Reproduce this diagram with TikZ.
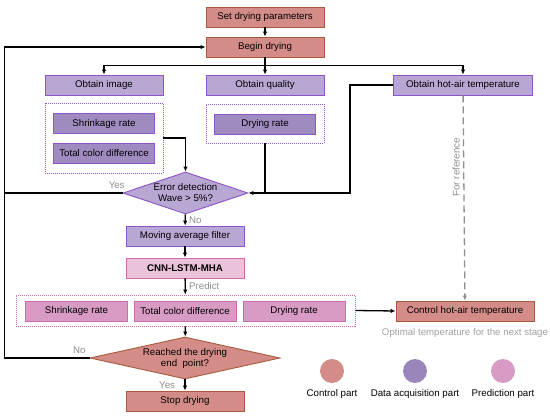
\documentclass[tikz,border=0pt]{standalone}
\usepackage{fontspec}
\setmainfont{Liberation Sans}
\usetikzlibrary{arrows.meta,positioning,shapes.geometric}
\definecolor{DryCtrl}{HTML}{D48C89}
\definecolor{DryCtrlLine}{HTML}{A85A3C}
\definecolor{DryAcq}{HTML}{B8A7D2}
\definecolor{DryAcqDark}{HTML}{9F8BC0}
\definecolor{DryAcqLine}{HTML}{8E55C8}
\definecolor{DryPred}{HTML}{D89BC3}
\definecolor{DryPredLight}{HTML}{EAC3DB}
\definecolor{DryPredLine}{HTML}{D06AAE}
\definecolor{DryDot}{HTML}{9B86BB}
\definecolor{DryGrey}{HTML}{8E8E8E}
\newcommand\dryfont{\fontsize{9.7}{11}\selectfont}
\tikzset{block/.style={draw,line width=0.9pt,align=center,minimum height=20pt,
minimum width=118pt,inner sep=1pt,font=\dryfont},
ctrl/.style={block,fill=DryCtrl,draw=DryCtrlLine},
acq/.style={block,fill=DryAcq,draw=DryAcqLine},
acqsub/.style={acq,fill=DryAcqDark,minimum width=101pt},
pred/.style={block,fill=DryPred,draw=DryPredLine,minimum width=102pt},
group/.style={draw,line width=0.9pt,dash pattern=on 1pt off 1pt,inner sep=0pt},
decide/.style={diamond,draw,line width=0.9pt,align=center,inner sep=0pt,font=\dryfont},
legdot/.style={circle,minimum size=24pt,inner sep=0pt},
flow/.style={-{Latex[length=5pt,width=4.5pt]},line width=1.3pt},
link/.style={line width=1.3pt},
note/.style={text=DryGrey,font=\dryfont}}

\begin{document}
\begin{tikzpicture}[x=1pt,y=-1pt]
\useasboundingbox (0,0) rectangle (550,418);
% control steps
\node[ctrl](setpar) at (265,17){Set drying parameters};
\node[ctrl](begin) at (265,47){Begin drying};
% data acquisition
\node[acq](image) at (104,85){Obtain image};
\node[acq](quality) at (265,85){Obtain quality};
\node[acq,minimum width=139pt](airtemp) at (463,85){Obtain hot-air temperature};
\node[group,draw=DryAcqLine,minimum width=118pt,minimum height=70pt](gimage) at (104,138){};
\node[acqsub](shrink) at (104,123.5){Shrinkage rate};
\node[acqsub](color) at (104,153){Total color difference};
\node[group,draw=DryAcqLine,minimum width=118pt,minimum height=39pt](gquality) at (265,123.5){};
\node[acqsub](rate) at (265,124){Drying rate};
\node[decide,fill=DryAcq,draw=DryAcqLine,minimum width=125pt,minimum height=42pt,
aspect=3](error) at (185.5,193){Error detection\\Wave > 5\%?};
\node[acq](filter) at (185,236){Moving average filter};
% prediction
\node[block,fill=DryPredLight,draw=DryPredLine,font=\dryfont\bfseries](cnn) at (185,268){CNN-LSTM-MHA};
\node[group,draw=DryPredLine,minimum width=339pt,minimum height=31pt](gpred) at (185.5,310.5){};
\node[pred](pshrink) at (76.5,311){Shrinkage rate};
\node[pred](pcolor) at (185,311){Total color difference};
\node[pred](prate) at (294,311){Drying rate};
\node[ctrl,minimum width=138pt](control) at (465,311){Control hot-air temperature};
\node[note,text=DryGrey!85,below=3pt of control](optimal){Optimal temperature for the next stage};
\node[decide,fill=DryCtrl,draw=DryCtrlLine,minimum width=190pt,minimum height=42pt,
aspect=4](reached) at (185,358){Reached the drying\\end\ \ point?};
\node[ctrl](stop) at (185,401){Stop drying};
% legend
\node[legdot,fill=DryCtrl](legctrl) at (332,371){};
\node[legdot,fill=DryDot](legacq) at (415,371){};
\node[legdot,fill=DryPred](legpred) at (503,371){};
\node[font=\dryfont,below=3pt of legctrl]{Control part};
\node[font=\dryfont,below=3pt of legacq]{Data acquisition part};
\node[font=\dryfont,below=3pt of legpred]{Prediction part};
% connectors
\draw[flow](setpar)--(begin);
\draw[link](begin.south)--++(0,8)coordinate(split);
\draw[flow](split)-|(image);
\draw[flow](split)--(quality);
\draw[flow](split)-|(airtemp);
\draw[flow](gimage.east)-|(error.north);
\draw[flow](gquality.south)|-(error.east);
\draw[link](airtemp.west)--++(-43,0)|-(gquality.south|-error.east);
\draw[link](error.west)--node[note,pos=0.05,above]{Yes}(5,193);
\draw[flow](error)--node[note,right]{No}(filter);
\draw[flow](filter)--(cnn);
\draw[flow](cnn)--node[note,right,pos=0.45]{Predict}(gpred);
\draw[flow](gpred.east)--(control.west);
\draw[flow,dash pattern=on 7pt off 4pt,draw=DryGrey](airtemp)--
node[note,rotate=90,above,pos=0.35]{For reference}(control);
\draw[flow](gpred)--(reached);
\draw[flow](reached)--node[note,left=6pt]{Yes}(stop);
\draw[flow](reached.west)--node[note,above,pos=0.12]{No}++(-85,0)|-(begin.west);
\end{tikzpicture}
\end{document}
